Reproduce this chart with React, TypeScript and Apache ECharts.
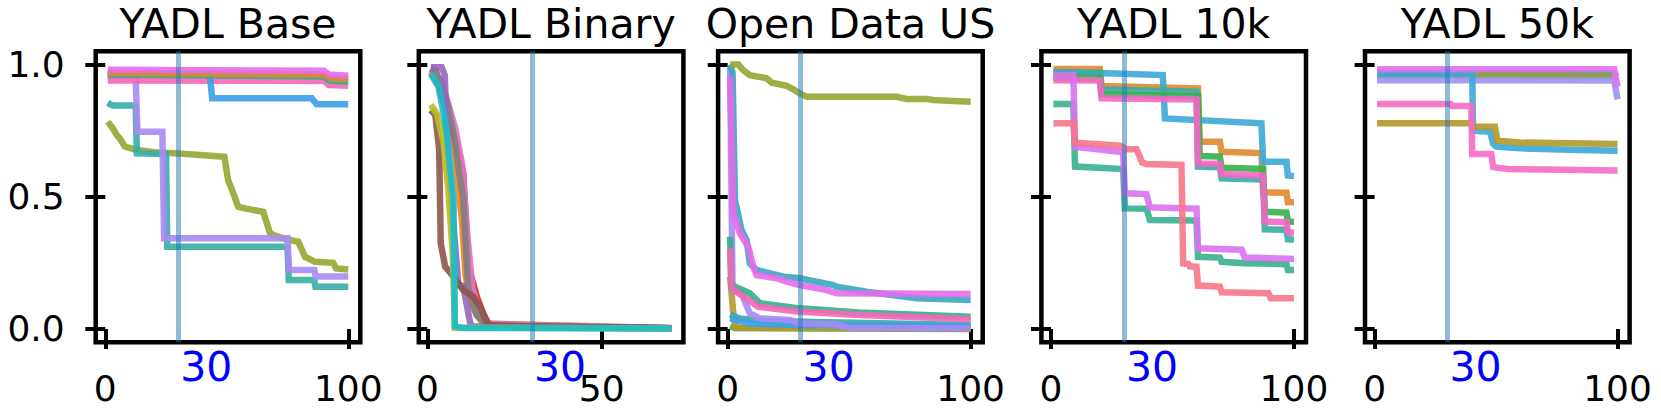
import React, { useEffect, useRef } from "react";
import * as echarts from "echarts";

type Pt = [number, number];

const FONT = '"DejaVu Sans", sans-serif';

const TITLES = ["YADL Base", "YADL Binary", "Open Data US", "YADL 10k", "YADL 50k"];
const MARK_X = 30;
const Y_TICKS = [0, 0.5, 1.0];
const X_TICKS_100 = [0, 100];
const X_TICKS_BIN = [0, 50];

// ---------- YADL Base ----------
const baseMagenta: Pt[] = [[1, 0.98], [90, 0.976], [92, 0.962], [100, 0.958]];
const baseOrange: Pt[] = [[1, 0.968], [30, 0.966], [90, 0.962], [92, 0.95], [100, 0.945]];
const baseTealGreen: Pt[] = [[1, 0.962], [90, 0.955], [92, 0.94], [100, 0.935]];
const baseBlue: Pt[] = [[1, 0.965], [43, 0.962], [44, 0.872], [85, 0.872], [87, 0.85], [100, 0.85]];
const basePink: Pt[] = [[1, 0.94], [90, 0.938], [92, 0.922], [100, 0.92]];
const baseTeal: Pt[] = [[1, 0.855], [3, 0.845], [12.5, 0.845], [13, 0.664], [25, 0.662], [25.5, 0.311], [75, 0.311], [75.5, 0.185], [86, 0.185], [86.5, 0.16], [100, 0.16]];
const basePurple: Pt[] = [[1, 0.958], [12.5, 0.955], [13.2, 0.746], [23.5, 0.746], [24.2, 0.343], [75, 0.343], [75.6, 0.223], [86, 0.223], [86.6, 0.198], [100, 0.198]];
const baseOlive: Pt[] = [[1, 0.784], [3, 0.76], [4.7, 0.733], [6, 0.72], [8, 0.69], [13, 0.677], [20, 0.668], [30, 0.664], [39, 0.658], [49, 0.651], [50.6, 0.56], [52, 0.53], [54.7, 0.462], [58, 0.455], [65, 0.443], [67.8, 0.362], [70, 0.352], [74.6, 0.339], [79.4, 0.33], [82.2, 0.273], [86.3, 0.254], [93.8, 0.25], [95, 0.229], [100, 0.225]];

// ---------- YADL Binary ----------
const binRed: Pt[] = [[1, 0.985], [2.5, 0.975], [3.6, 0.904], [6.5, 0.778], [8.4, 0.702], [10.3, 0.589], [11.8, 0.236], [14.2, 0.122], [16, 0.059], [17.5, 0.02], [30, 0.01], [70, 0.003]];
const binPink: Pt[] = [[1, 0.98], [4, 0.94], [6, 0.85], [8, 0.76], [10, 0.62], [11.5, 0.35], [13, 0.15], [15, 0.07], [17, 0.02], [70, 0.003]];
const binOrange: Pt[] = [[1, 0.97], [4, 0.9], [6, 0.8], [8, 0.65], [10, 0.4], [11, 0.2], [13, 0.08], [16, 0.02], [70, 0.003]];
const binGray: Pt[] = [[1, 0.985], [2.5, 0.97], [4.6, 0.91], [6, 0.84], [7.9, 0.708], [9, 0.6], [10.3, 0.494], [11.7, 0.154], [14.1, 0.053], [16, 0.028], [18, 0.012], [70, 0.003]];
const binPurple: Pt[] = [[1, 0.99], [4.1, 0.99], [5, 0.96], [5.6, 0.72], [7, 0.47], [8.9, 0.166], [10.3, 0.163], [12.2, 0.028], [12.7, 0.01], [70, 0.003]];
const binOlive: Pt[] = [[1, 0.847], [2.7, 0.815], [4.6, 0.708], [6, 0.532], [7.3, 0.28], [7.9, 0.005], [70, 0.002]];
const binBrown: Pt[] = [[1, 0.828], [2.3, 0.809], [3.4, 0.677], [3.84, 0.325], [5.1, 0.236], [7.5, 0.198], [10.3, 0.147], [13.2, 0.122], [15.1, 0.084], [17, 0.028], [18, 0.014], [30, 0.01], [70, 0.004]];
const binCyan: Pt[] = [[1, 0.965], [3.2, 0.916], [4.6, 0.82], [5.6, 0.74], [6.5, 0.62], [7.5, 0.488], [7.9, 0.01], [10, 0.004], [70, 0.002]];

// ---------- Open Data US ----------
const odOlive: Pt[] = [[1, 1.0], [4.4, 1.0], [6.4, 0.979], [9.1, 0.96], [16, 0.948], [18.1, 0.931], [24.3, 0.919], [27, 0.906], [29.7, 0.891], [32.5, 0.878], [69.5, 0.878], [73.6, 0.87], [81.9, 0.87], [84.6, 0.866], [92.8, 0.862], [100, 0.859]];
const odCyan: Pt[] = [[1, 1.0], [2, 0.97], [3, 0.488], [5.7, 0.374], [7.8, 0.336], [9.1, 0.248], [11.9, 0.223], [22.9, 0.198], [29.7, 0.192], [32.5, 0.186], [43.5, 0.166], [44.8, 0.16], [57.2, 0.141], [77.8, 0.116], [100, 0.11]];
const odMagenta: Pt[] = [[1, 0.954], [2.3, 0.437], [5, 0.362], [8.5, 0.311], [10.5, 0.236], [11.9, 0.204], [20.1, 0.192], [24.3, 0.179], [29.7, 0.166], [40.7, 0.147], [44.8, 0.135], [100, 0.132]];
const odTealGreen: Pt[] = [[1, 0.349], [1.5, 0.166], [4.4, 0.154], [9.1, 0.135], [13.3, 0.097], [29.7, 0.078], [54, 0.062], [100, 0.046]];
const odPink: Pt[] = [[1, 0.305], [1.5, 0.16], [4.4, 0.135], [8.5, 0.11], [12.6, 0.084], [29.7, 0.065], [54.4, 0.053], [100, 0.037]];
const odPurple: Pt[] = [[1, 0.99], [1.6, 0.5], [2, 0.147], [5.7, 0.135], [9.1, 0.059], [13.3, 0.04], [25.6, 0.034], [29.7, 0.021], [44.8, 0.017], [50.3, 0.005], [100, 0.003]];
const odGold: Pt[] = [[1, 0.198], [2.5, 0.04], [3.5, 0.005], [100, 0.002]];
const odBlue: Pt[] = [[1, 0.04], [5, 0.03], [10, 0.02], [30, 0.015], [100, 0.009]];
const odTeal: Pt[] = [[1, 0.055], [5, 0.04], [15, 0.03], [100, 0.015]];
const odGreen: Pt[] = [[1, 0.01], [3, 0.003], [100, 0.0]];

// ---------- YADL 10k ----------
const k10Orange: Pt[] = [[1, 0.983], [20.1, 0.983], [20.8, 0.919], [60.5, 0.91], [61.2, 0.708], [69.5, 0.708], [70.2, 0.67], [86.6, 0.665], [87.3, 0.517], [96.9, 0.515], [97.5, 0.479], [100, 0.479]];
const k10Blue: Pt[] = [[1, 0.973], [29.7, 0.965], [46, 0.96], [46.9, 0.796], [86.6, 0.778], [87.3, 0.632], [96.9, 0.632], [97.5, 0.58], [100, 0.578]];
const k10Teal: Pt[] = [[1, 0.97], [20.1, 0.968], [20.8, 0.906], [59.9, 0.897], [60.5, 0.614], [69.5, 0.612], [70.2, 0.57], [87.3, 0.565], [88, 0.377], [96.9, 0.375], [97.5, 0.339], [100, 0.337]];
const k10Green: Pt[] = [[1, 0.95], [20.1, 0.948], [20.8, 0.887], [60.5, 0.88], [61.2, 0.654], [69.5, 0.652], [70.2, 0.61], [87.3, 0.605], [88, 0.443], [96.9, 0.44], [97.5, 0.406], [100, 0.405]];
const k10Pink: Pt[] = [[1, 0.941], [20.1, 0.94], [20.8, 0.872], [59.9, 0.868], [60.5, 0.626], [69.5, 0.624], [70.2, 0.586], [87.3, 0.58], [88, 0.406], [96.9, 0.404], [97.5, 0.366], [100, 0.364]];
const k10Magenta: Pt[] = [[1, 0.96], [9.2, 0.96], [9.9, 0.689], [28.4, 0.67], [29.7, 0.665], [30.4, 0.513], [39.3, 0.51], [40.7, 0.46], [59.9, 0.455], [60.5, 0.305], [78.5, 0.3], [79.7, 0.27], [100, 0.265]];
const k10TealGreen: Pt[] = [[1, 0.851], [9.2, 0.851], [9.9, 0.614], [29.7, 0.605], [30.4, 0.456], [39.3, 0.455], [40.7, 0.412], [59.9, 0.41], [60.5, 0.273], [69.5, 0.27], [70.2, 0.254], [79.7, 0.249], [96.9, 0.245], [97.5, 0.223], [100, 0.223]];
const k10Red: Pt[] = [[1, 0.778], [9.2, 0.778], [9.9, 0.704], [28.4, 0.693], [31.1, 0.68], [35.2, 0.68], [37.5, 0.63], [39.3, 0.624], [53.7, 0.62], [54.4, 0.248], [56.5, 0.246], [57.1, 0.237], [59.9, 0.235], [60.5, 0.164], [69.5, 0.16], [70.2, 0.139], [89.5, 0.135], [90.5, 0.116], [100, 0.116]];

// ---------- YADL 50k ----------
const k50Green: Pt[] = [[1, 0.97], [98, 0.965], [100, 0.955]];
const k50Teal: Pt[] = [[1, 0.965], [98.6, 0.962], [100, 0.96]];
const k50Olive: Pt[] = [[1, 0.958], [40, 0.958], [98, 0.955], [100, 0.95]];
const k50Blue: Pt[] = [[1, 0.965], [40.2, 0.965], [40.5, 0.75], [47.5, 0.746], [48.8, 0.7], [50, 0.69], [60, 0.683], [80, 0.678], [100, 0.674]];
const k50Lavender: Pt[] = [[1, 0.941], [98.6, 0.94], [100, 0.868]];
const k50Magenta: Pt[] = [[1, 0.982], [98.6, 0.982], [100, 0.916]];
const k50Pink: Pt[] = [[1, 0.851], [31.2, 0.851], [32, 0.843], [39.8, 0.843], [40.2, 0.662], [48, 0.662], [48.8, 0.612], [55, 0.605], [100, 0.599]];
const k50Gold: Pt[] = [[1, 0.778], [39.5, 0.778], [40.2, 0.765], [49.5, 0.765], [50.5, 0.712], [60, 0.705], [100, 0.699]];

type Line = { color: string; data: Pt[] };
type Panel = { title: string; xMin: number; xMax: number; xTicks: number[]; lines: Line[] };

const PANELS: Panel[] = [
  {
    title: TITLES[0], xMin: -3.95, xMax: 104.95, xTicks: X_TICKS_100,
    lines: [
      { color: "#97a431", data: baseOlive },
      { color: "#36ada4", data: baseTeal },
      { color: "#a78bf3", data: basePurple },
      { color: "#f467b8", data: basePink },
      { color: "#3aa0ea", data: baseBlue },
      { color: "#33b08a", data: baseTealGreen },
      { color: "#e2862b", data: baseOrange },
      { color: "#e56be9", data: baseMagenta },
    ],
  },
  {
    title: TITLES[1], xMin: -2.45, xMax: 73.45, xTicks: X_TICKS_BIN,
    lines: [
      { color: "#ff7f0e", data: binOrange },
      { color: "#d62728", data: binRed },
      { color: "#e377c2", data: binPink },
      { color: "#7f7f7f", data: binGray },
      { color: "#9467bd", data: binPurple },
      { color: "#8c564b", data: binBrown },
      { color: "#bcbd22", data: binOlive },
      { color: "#17becf", data: binCyan },
    ],
  },
  {
    title: TITLES[2], xMin: -3.95, xMax: 104.95, xTicks: X_TICKS_100,
    lines: [
      { color: "#4bb04a", data: odGreen },
      { color: "#b8962e", data: odGold },
      { color: "#36ada4", data: odTeal },
      { color: "#3aa0ea", data: odBlue },
      { color: "#a78bf3", data: odPurple },
      { color: "#33b08a", data: odTealGreen },
      { color: "#f467b8", data: odPink },
      { color: "#38a9c0", data: odCyan },
      { color: "#e56be9", data: odMagenta },
      { color: "#97a431", data: odOlive },
    ],
  },
  {
    title: TITLES[3], xMin: -3.95, xMax: 104.95, xTicks: X_TICKS_100,
    lines: [
      { color: "#e0882e", data: k10Orange },
      { color: "#3ba8d8", data: k10Blue },
      { color: "#36ada4", data: k10Teal },
      { color: "#33b04a", data: k10Green },
      { color: "#f467c4", data: k10Pink },
      { color: "#38b090", data: k10TealGreen },
      { color: "#d972f0", data: k10Magenta },
      { color: "#f7768a", data: k10Red },
    ],
  },
  {
    title: TITLES[4], xMin: -3.95, xMax: 104.95, xTicks: X_TICKS_100,
    lines: [
      { color: "#33b06a", data: k50Green },
      { color: "#36ada4", data: k50Teal },
      { color: "#97a431", data: k50Olive },
      { color: "#9a94f0", data: k50Lavender },
      { color: "#3aa8d8", data: k50Blue },
      { color: "#b3982c", data: k50Gold },
      { color: "#f56bc4", data: k50Pink },
      { color: "#e070f0", data: k50Magenta },
    ],
  },
];

const GRID_LEFT = [95.7, 418.8, 718.1, 1041.4, 1365];
const GRID_TOP = 51.3;
const GRID_W = 264.6;
const GRID_H = 290.9;

export default function App() {
  const ref = useRef<HTMLDivElement>(null);
  useEffect(() => {
    if (!ref.current) return;
    const chart = echarts.init(ref.current, null, { renderer: "svg" });
    const grids: any[] = [];
    const xAxes: any[] = [];
    const yAxes: any[] = [];
    const series: any[] = [];
    PANELS.forEach((p, i) => {
      grids.push({
        left: GRID_LEFT[i], top: GRID_TOP, width: GRID_W, height: GRID_H,
        show: true, borderColor: "#000", borderWidth: 4.5, backgroundColor: "transparent",
      });
      xAxes.push({
        type: "value", gridIndex: i, min: p.xMin, max: p.xMax,
        axisLine: { show: false }, splitLine: { show: false },
        axisTick: { show: true, length: 20, lineStyle: { color: "#000", width: 4 }, customValues: p.xTicks },
        axisLabel: { show: true, customValues: p.xTicks, fontSize: 36, color: "#000", fontFamily: FONT, margin: 28 },
      });
      yAxes.push({
        type: "value", gridIndex: i, min: -0.05, max: 1.05,
        axisLine: { show: false }, splitLine: { show: false },
        axisTick: { show: true, length: 20, lineStyle: { color: "#000", width: 4 }, customValues: Y_TICKS },
        axisLabel: {
          show: i === 0, customValues: Y_TICKS, fontSize: 36, color: "#000", fontFamily: FONT, margin: 31,
          formatter: (v: number) => v.toFixed(1),
        },
      });
      p.lines.forEach((l) => {
        series.push({
          type: "line", xAxisIndex: i, yAxisIndex: i, data: l.data,
          showSymbol: false, symbol: "none", silent: true, z: 2,
          lineStyle: { width: 6.5, color: l.color, opacity: 0.9, cap: "butt", join: "miter" },
          itemStyle: { color: l.color },
        });
      });
      series.push({
        type: "line", xAxisIndex: i, yAxisIndex: i, data: [], symbol: "none", z: 4, silent: true,
        markLine: {
          silent: true, symbol: ["none", "none"], label: { show: false },
          lineStyle: { color: "#1f77b4", width: 5, opacity: 0.5, type: "solid" },
          data: [{ xAxis: MARK_X }],
        },
      });
    });
    chart.setOption({ animation: false, grid: grids, xAxis: xAxes, yAxis: yAxes, series });

    const g: any[] = [];
    PANELS.forEach((p, i) => {
      g.push({
        type: "text", x: GRID_LEFT[i] + GRID_W / 2, y: 24,
        style: { text: p.title, font: `41px ${FONT}`, fill: "#000", align: "center", verticalAlign: "middle" },
      });
      const pt = chart.convertToPixel({ gridIndex: i } as any, [MARK_X, -0.05]) as number[];
      g.push({
        type: "text", x: pt[0] + 2, y: pt[1] + 24.5,
        style: { text: String(MARK_X), font: `41px ${FONT}`, fill: "#0000ff", align: "left", verticalAlign: "middle" },
      });
    });
    chart.setOption({ graphic: g });
    return () => chart.dispose();
  }, []);
  return (
    <div
      ref={ref}
      style={{ position: "fixed", left: 0, top: 0, width: 1661, height: 415, background: "#fff" }}
    />
  );
}
